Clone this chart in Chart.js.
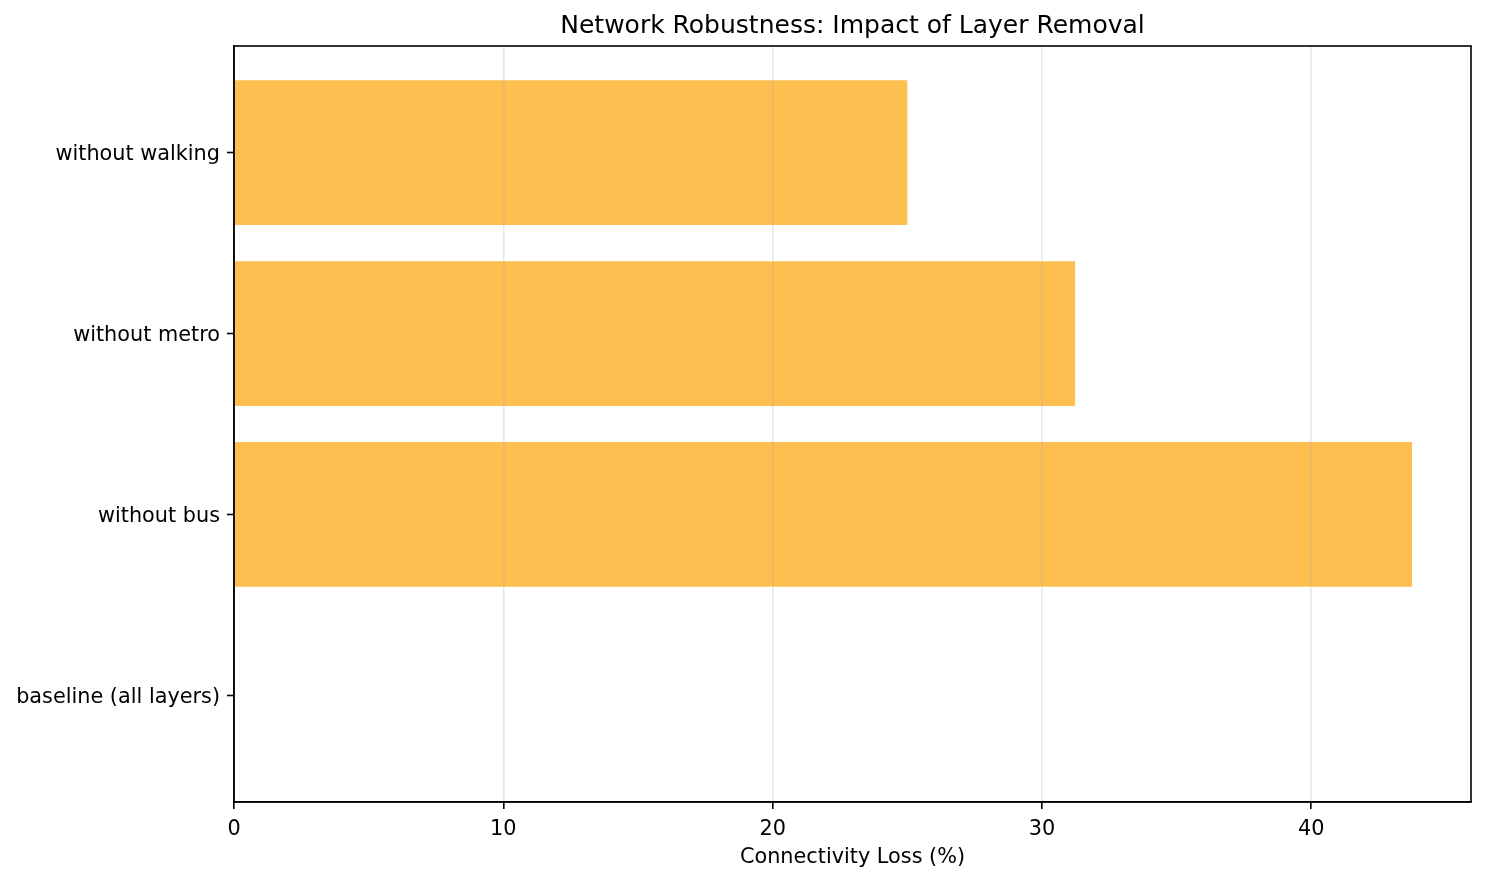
<!DOCTYPE html>
<html>
<head>
<meta charset="utf-8">
<script src="https://cdn.jsdelivr.net/npm/chart.js@4.4.1/dist/chart.umd.min.js"></script>
<style>
    html, body { margin: 0; padding: 0; background: #fff; }
    #wrap { width: 1485px; height: 881px; }
</style>
</head>
<body>
<div id="wrap"><canvas id="robustChart" width="1485" height="881"></canvas></div>
<script>
    // categories from bottom (y = 0) to top, same as the barh order
    const scenarios = ['baseline (all layers)', 'without bus', 'without metro', 'without walking'];
    const connectivityLoss = [0, 43.74, 31.23, 25.0];
    const xTicks = [0, 10, 20, 30, 40];
    const xMax = 45.93;
    const chartTitle = 'Network Robustness: Impact of Layer Removal';

    const barColor = '#fdbf4f';
    const gridColor = 'rgba(176, 176, 176, 0.3)';
    const fontFamily = "'DejaVu Sans', sans-serif";

    const barData = scenarios.map((name, i) => ({ x: connectivityLoss[i], y: i }));

    // matplotlib-style frame plus a title centred over the axes, not the canvas
    const frameAndTitle = {
        id: 'frameAndTitle',
        afterDraw(chart) {
            const { ctx, chartArea } = chart;
            ctx.save();
            ctx.strokeStyle = '#000';
            ctx.lineWidth = 1.6;
            ctx.strokeRect(chartArea.left, chartArea.top, chartArea.right - chartArea.left, chartArea.bottom - chartArea.top);
            ctx.fillStyle = '#000';
            ctx.font = `25px ${fontFamily}`;
            ctx.textAlign = 'center';
            ctx.textBaseline = 'middle';
            ctx.fillText(chartTitle, (chartArea.left + chartArea.right) / 2, 26);
            ctx.restore();
        }
    };

    new Chart(document.getElementById('robustChart'), {
        type: 'bar',
        data: {
            datasets: [{
                label: 'Connectivity Loss',
                data: barData,
                backgroundColor: barColor,
                borderWidth: 0,
                barPercentage: 0.8,
                categoryPercentage: 1
            }]
        },
        options: {
            responsive: false,
            animation: false,
            indexAxis: 'y',
            layout: { padding: { left: 0, right: 14, top: 46, bottom: 0 } },
            plugins: {
                legend: { display: false },
                tooltip: { enabled: false },
                title: { display: false }
            },
            scales: {
                x: {
                    type: 'linear',
                    min: 0,
                    max: xMax,
                    afterBuildTicks: (scale) => { scale.ticks = xTicks.map((v) => ({ value: v })); },
                    afterFit: (scale) => { scale.height = 79; },
                    ticks: {
                        color: '#000',
                        font: { family: fontFamily, size: 20.8 },
                        padding: 8,
                        maxRotation: 0
                    },
                    grid: {
                        color: gridColor,
                        lineWidth: 1.6,
                        z: 1,
                        drawTicks: true,
                        tickLength: 7,
                        tickColor: '#000',
                        tickWidth: 1.6
                    },
                    // border drawn after the grid layer so its position is already known
                    border: { display: true, color: '#000', width: 1.6, z: 2 },
                    title: {
                        display: true,
                        text: 'Connectivity Loss (%)',
                        color: '#000',
                        font: { family: fontFamily, size: 20.8, lineHeight: 1.2 },
                        padding: { top: 4, bottom: 11 }
                    }
                },
                y: {
                    type: 'linear',
                    min: -0.59,
                    max: 3.59,
                    offset: false,
                    afterBuildTicks: (scale) => { scale.ticks = scenarios.map((s, i) => ({ value: i })); },
                    afterFit: (scale) => { scale.width = 234; },
                    ticks: {
                        color: '#000',
                        font: { family: fontFamily, size: 20.8 },
                        padding: 7,
                        labelOffset: 2,
                        callback: (value) => scenarios[value] ?? ''
                    },
                    grid: {
                        display: true,
                        offset: false,
                        drawOnChartArea: false,
                        drawTicks: true,
                        tickLength: 7,
                        tickColor: '#000',
                        tickWidth: 1.6
                    },
                    border: { display: true, color: '#000', width: 1.6 }
                }
            }
        },
        plugins: [frameAndTitle]
    });
</script>
</body>
</html>
